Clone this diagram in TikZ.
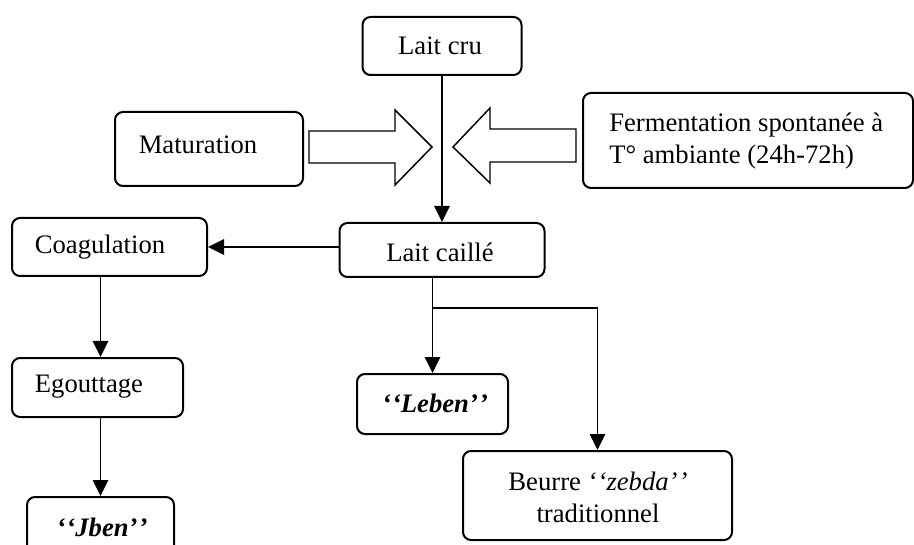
\documentclass[tikz,border=0pt]{standalone}
\usepackage{fontspec}
\setmainfont{Liberation Serif}
\usetikzlibrary{arrows.meta}
\tikzset{
  box/.style={draw, line width=1.5pt, rounded corners=6pt, inner sep=0pt},
  conn/.style={line width=1.25pt},
  arr/.style={conn, -{Triangle[width=11.5pt,length=12pt]}},
  block/.style={draw, line width=1.1pt, fill=white},
  txt/.style={inner sep=0pt, font=\fontsize{20}{24}\selectfont}
}
\newcommand{\oq}{‘\kern0.8pt‘}
\newcommand{\cq}{’\kern0.8pt’}
\begin{document}
\begin{tikzpicture}[x=0.75pt, y=-0.75pt]
\clip (0,0) rectangle (914,545);
\fill[white] (0,0) rectangle (914,545);
% boxes
\node[box, minimum width=119.25pt, minimum height=43.5pt] (laitcru) at (442,46) {};
\node[box, minimum width=141pt, minimum height=55.5pt] (matur) at (209,149) {};
\node[box, minimum width=247.5pt, minimum height=71.25pt] (ferm) at (748,140.5) {};
\node[box, minimum width=146.25pt, minimum height=43.5pt] (coag) at (109.5,247) {};
\node[box, minimum width=153.75pt, minimum height=40.5pt] (laitcaille) at (442,250) {};
\node[box, minimum width=128.25pt, minimum height=44.25pt] (egout) at (97.5,387.5) {};
\node[box, minimum width=110.25pt, minimum height=45pt] (jben) at (100.5,527) {};
\node[box, minimum width=113.25pt, minimum height=45pt] (leben) at (432.5,404) {};
\node[box, minimum width=201.75pt, minimum height=66.75pt] (beurre) at (597.5,495.5) {};
% texts
\node[txt] (tlaitcru) at (440,46) {Lait cru};
\node[txt] (tmatur) at (198,145) {Maturation};
\node[txt, anchor=west, align=left] (tferm) at (609,141) {Fermentation spontanée à\\T° ambiante (24h-72h)};
\node[txt] (tcoag) at (100,247) {Coagulation};
\node[txt] (tlaitcaille) at (440,252) {Lait caillé};
\node[txt] (tegout) at (89,387) {Egouttage};
\node[txt] (tjben) at (102,527) {\textbf{\textit{\oq Jben\cq}}};
\node[txt] (tleben) at (435,403) {\textbf{\textit{\oq Leben\cq}}};
\node[txt, align=center] (tbeurre) at (598,497) {Beurre \textit{\oq zebda\cq}\\traditionnel};
% block arrows
\draw[block] (309,131) -- (395,131) -- (395,110) -- (432,147) -- (395,185) -- (395,163) -- (309,163) -- cycle;
\draw[block] (576,129) -- (490,129) -- (490,108) -- (453,147) -- (490,183) -- (490,162) -- (576,162) -- cycle;
% connectors
\draw[arr] (laitcru.south) -- (laitcaille.north);
\draw[arr] (laitcaille.west |- coag.east) -- (coag.east);
\draw[arr] (coag.south -| jben.north) -- (egout.north -| jben.north);
\draw[arr] (egout.south -| jben.north) -- (jben.north);
\coordinate (br) at (leben.north |- 0,308);
\draw[arr] (laitcaille.south -| leben.north) -- (leben.north);
\draw[arr] (br) -| (beurre.north);
\end{tikzpicture}
\end{document}
